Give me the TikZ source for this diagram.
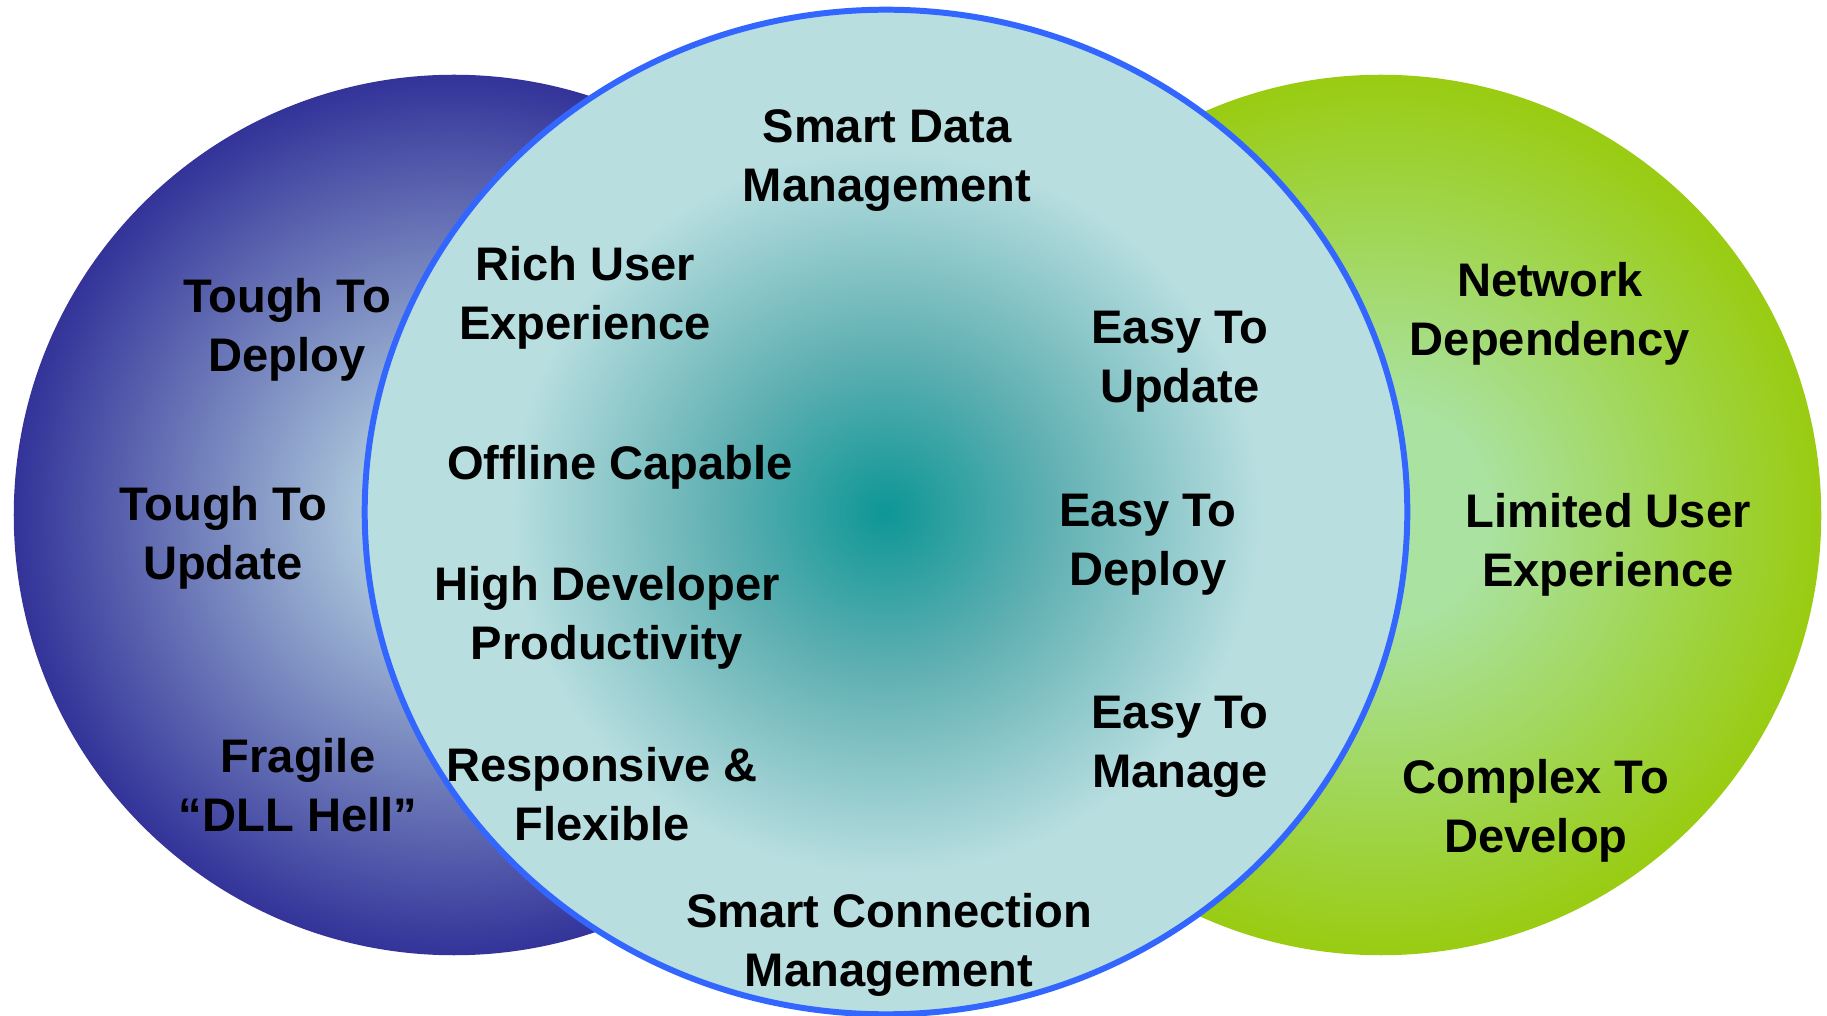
\documentclass[tikz,border=0pt]{standalone}
\usepackage{fontspec}
\setmainfont{Liberation Sans}

\definecolor{darkblue}{RGB}{51,51,153}
\definecolor{paleblue}{RGB}{184,214,226}
\definecolor{tealcore}{RGB}{14,150,150}
\definecolor{tealmid}{RGB}{96,176,178}
\definecolor{palecyan}{RGB}{184,222,224}
\definecolor{palegreen}{RGB}{170,226,162}
\definecolor{limegreen}{RGB}{153,204,17}
\definecolor{rimblue}{RGB}{51,102,255}

\pgfdeclareradialshading{leftshade}{\pgfpoint{0bp}{0bp}}{color(0bp)=(paleblue); color(3bp)=(paleblue); color(25bp)=(darkblue); color(50bp)=(darkblue)}
\pgfdeclareradialshading{rightshade}{\pgfpoint{0bp}{0bp}}{color(0bp)=(palegreen); color(6bp)=(palegreen); color(25bp)=(limegreen); color(50bp)=(limegreen)}
\pgfdeclareradialshading{centershade}{\pgfpoint{0bp}{0bp}}{color(0bp)=(tealcore); color(8bp)=(tealmid); color(18bp)=(palecyan); color(25bp)=(palecyan); color(50bp)=(palecyan)}

\begin{document}
\begin{tikzpicture}
	[x=0.01cm, y=-0.01cm,
	label/.style={inner sep=0pt, align=center, font=\fontsize{13.4}{16.8}\selectfont\bfseries}]

	\useasboundingbox (0,0) rectangle (1827,1016);

	% Create centers
	\coordinate (CL) at (454,515);
	\coordinate (CR) at (1381,515);
	\coordinate (CM) at (886,512);

	% Draw side circles
	\shade[shading=leftshade] (CL) circle[radius=4.40cm];
	\shade[shading=rightshade] (CR) circle[radius=4.40cm];

	% Draw middle circle
	\shade[shading=centershade] (CM) ellipse[x radius=5.21cm, y radius=5.02cm];
	\draw[rimblue, line width=1.7pt] (CM) ellipse[x radius=5.21cm, y radius=5.02cm];

	% Left side
	\node[label] (toughdeploy) at (287,330) {Tough To\\Deploy};
	\node[label] (toughupdate) at (223,538) {Tough To\\Update};
	\node[label] (fragile) at (298,785) {Fragile\\“DLL Hell”};

	% Middle
	\node[label] (smartdata) at (887,161) {Smart Data\\Management};
	\node[label] (richuser) at (585,298) {Rich User\\Experience};
	\node[label] (offline) at (620,467) {Offline Capable};
	\node[label] (highdev) at (607,618) {High Developer\\Productivity};
	\node[label] (responsive) at (602,794) {Responsive \&\\Flexible};
	\node[label] (easyupdate) at (1180,362) {Easy To\\Update};
	\node[label] (easydeploy) at (1148,545) {Easy To\\Deploy};
	\node[label] (easymanage) at (1180,747) {Easy To\\Manage};
	\node[label] (smartconn) at (889,945) {Smart Connection\\Management};

	% Right side
	\node[label] (network) at (1550,314) {Network\\Dependency};
	\node[label] (limited) at (1608,545) {Limited User\\Experience};
	\node[label] (complex) at (1536,811) {Complex To\\Develop};

\end{tikzpicture}
\end{document}
